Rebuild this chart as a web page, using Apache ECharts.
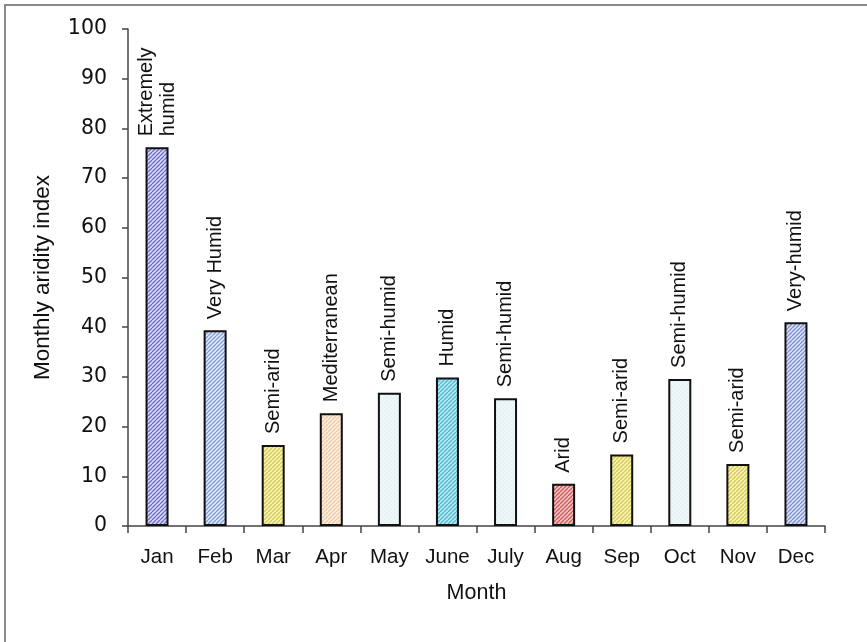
<!DOCTYPE html>
<html>
<head>
<meta charset="utf-8">
<script src="https://cdn.jsdelivr.net/npm/echarts@6/dist/echarts.min.js"></script>
<style>
  html, body { margin: 0; padding: 0; background: #ffffff; }
  #chart { width: 867px; height: 642px; }
</style>
</head>
<body>
<div id="chart"></div>
<script>
// Monthly aridity index with its climate class per month
const months = ['Jan', 'Feb', 'Mar', 'Apr', 'May', 'June', 'July', 'Aug', 'Sep', 'Oct', 'Nov', 'Dec'];
const aridityIndex = [76.2, 39.4, 16.3, 22.7, 26.8, 29.9, 25.7, 8.5, 14.4, 29.6, 12.5, 41.0];
const climateClass = ['Extremely\nhumid', 'Very Humid', 'Semi-arid', 'Mediterranean', 'Semi-humid', 'Humid',
                      'Semi-humid', 'Arid', 'Semi-arid', 'Semi-humid', 'Semi-arid', 'Very-humid'];
const yMin = 0, yMax = 100, yStep = 10;

// Hatch fills (stripe colour, background colour) for each climate class
const hatchStyles = {
  'Extremely\nhumid': ['#6c6cc8', '#dadaf4'],
  'Very Humid':       ['#809ed8', '#e0e8f6'],
  'Very-humid':       ['#7c8ed0', '#dde3f4'],
  'Semi-arid':        ['#d6cc4c', '#f7f3bc'],
  'Mediterranean':    ['#eccaa2', '#fcf1e4'],
  'Semi-humid':       ['#e4f0f3', '#f1f8fa'],
  'Humid':            ['#4cbad0', '#bde8f0'],
  'Arid':             ['#cf5a5a', '#f2c4c4']
};

function hatch(stripe, bg) {
  const size = 4;
  const c = document.createElement('canvas');
  c.width = size; c.height = size;
  const ctx = c.getContext('2d');
  ctx.fillStyle = bg;
  ctx.fillRect(0, 0, size, size);
  ctx.strokeStyle = stripe;
  ctx.lineWidth = 1.3;
  ctx.beginPath();
  // "/" diagonals, repeated across tile edges so they join seamlessly
  for (let k = -1; k <= 1; k++) {
    ctx.moveTo(k * size, size);
    ctx.lineTo(k * size + size, 0);
  }
  ctx.stroke();
  return { image: c, repeat: 'repeat' };
}

const barData = aridityIndex.map((v, i) => {
  const s = hatchStyles[climateClass[i]];
  return {
    value: v,
    itemStyle: { color: hatch(s[0], s[1]) },
    label: { formatter: climateClass[i] }
  };
});

const textColor = '#111';

const chart = echarts.init(document.getElementById('chart'), null, { renderer: 'canvas' });
chart.setOption({
  animation: false,
  backgroundColor: '#ffffff',
  grid: { left: 128, right: 42, top: 29, bottom: 116 },
  graphic: [
    { type: 'line', shape: { x1: 4, y1: 5, x2: 867, y2: 5 }, style: { stroke: '#8a8a8a', lineWidth: 2 } },
    { type: 'line', shape: { x1: 5, y1: 4, x2: 5, y2: 642 }, style: { stroke: '#8a8a8a', lineWidth: 2 } }
  ],
  xAxis: {
    type: 'category',
    data: months,
    boundaryGap: true,
    name: 'Month',
    nameLocation: 'middle',
    nameGap: 56,
    nameTextStyle: { fontFamily: 'Liberation Sans', fontSize: 21.5, color: textColor },
    axisLine: { lineStyle: { color: '#444', width: 1.5 } },
    axisTick: { show: true, interval: 0, length: 7, lineStyle: { color: '#444', width: 1.5 } },
    axisLabel: { interval: 0, fontFamily: 'Liberation Sans', fontSize: 20.5, color: textColor, margin: 21 }
  },
  yAxis: {
    type: 'value',
    min: yMin,
    max: yMax,
    interval: yStep,
    name: 'Monthly aridity index',
    nameLocation: 'middle',
    nameGap: 74,
    nameTextStyle: { fontFamily: 'Liberation Sans', fontSize: 22.5, color: textColor },
    splitLine: { show: false },
    axisLine: { show: true, lineStyle: { color: '#444', width: 1.5 } },
    axisTick: { show: true, length: 6, lineStyle: { color: '#444', width: 1.5 } },
    axisLabel: { fontFamily: 'DejaVu Sans', fontSize: 20.5, color: textColor, margin: 21 }
  },
  series: [{
    type: 'bar',
    data: barData,
    barWidth: 23,
    itemStyle: { borderColor: '#111', borderWidth: 2 },
    label: {
      show: true,
      position: 'top',
      rotate: 90,
      align: 'left',
      verticalAlign: 'middle',
      distance: 11,
      fontFamily: 'Liberation Sans',
      fontSize: 20,
      lineHeight: 22,
      color: textColor
    }
  }]
});
</script>
</body>
</html>
